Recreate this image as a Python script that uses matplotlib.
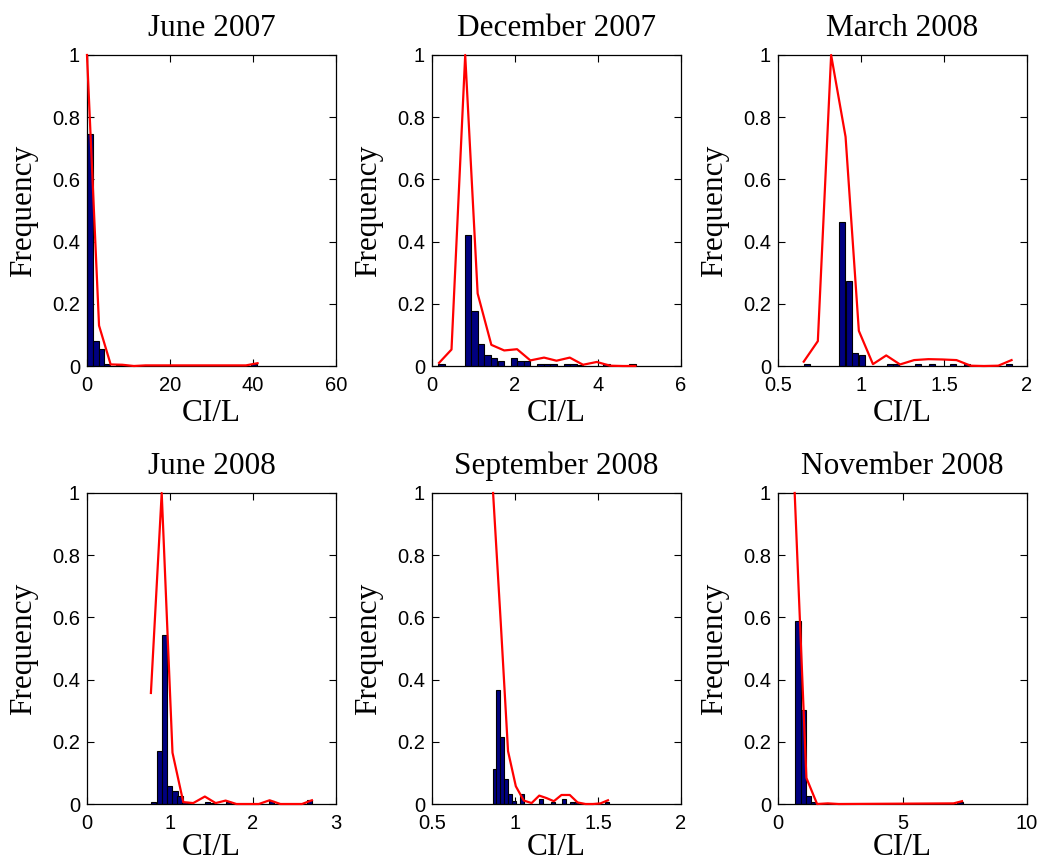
import matplotlib
matplotlib.use("Agg")
import matplotlib.pyplot as plt
from matplotlib.ticker import FuncFormatter

titles = ["June 2007", "December 2007", "March 2008",
          "June 2008", "September 2008", "November 2008"]

# histogram bars (bin centres, heights, bin width)
bar_x1 = [0.7, 2.1, 3.5, 4.9, 7.7, 40.3]
bar_y1 = [0.745, 0.08, 0.055, 0.006, 0.003, 0.008]
bar_w1 = 1.4

bar_x2 = [0.23, 0.87, 1.02, 1.18, 1.34, 1.50, 1.66, 1.98, 2.13, 2.29,
          2.61, 2.77, 2.93, 3.25, 3.41, 3.56, 4.20, 4.83]
bar_y2 = [0.008, 0.42, 0.178, 0.072, 0.034, 0.025, 0.017, 0.025, 0.017, 0.017,
          0.008, 0.008, 0.008, 0.008, 0.008, 0.003, 0.007, 0.008]
bar_w2 = 0.155

bar_x3 = [0.672, 0.885, 0.925, 0.965, 1.005, 1.176, 1.212, 1.345, 1.43,
          1.553, 1.64, 1.89]
bar_y3 = [0.008, 0.463, 0.273, 0.042, 0.035, 0.008, 0.006, 0.008, 0.008,
          0.008, 0.005, 0.008]
bar_w3 = 0.036

bar_x4 = [0.805, 0.87, 0.93, 0.995, 1.06, 1.12, 1.18, 1.24, 1.45, 1.51,
          1.705, 2.225, 2.68]
bar_y4 = [0.008, 0.17, 0.545, 0.057, 0.043, 0.027, 0.008, 0.003, 0.008,
          0.004, 0.008, 0.01, 0.012]
bar_w4 = 0.062

bar_x5 = [0.878, 0.900, 0.924, 0.948, 0.972, 0.995, 1.042, 1.157, 1.23,
          1.295, 1.342, 1.366, 1.552]
bar_y5 = [0.112, 0.366, 0.215, 0.08, 0.033, 0.01, 0.033, 0.017, 0.008,
          0.017, 0.008, 0.008, 0.008]
bar_w5 = 0.024

bar_x6 = [0.8, 1.01, 1.23, 1.44, 7.31]
bar_y6 = [0.588, 0.303, 0.025, 0.008, 0.005]
bar_w6 = 0.21

# red curves
line_x1 = [0.0, 2.9, 5.7, 8.5, 11.3, 14.1, 38.3, 41.1]
line_y1 = [1.0, 0.13, 0.005, 0.004, 0.0, 0.002, 0.002, 0.009]

line_x2 = [0.17, 0.47, 0.8, 1.1, 1.43, 1.74, 2.05, 2.37, 2.7, 3.0, 3.32,
           3.64, 3.97, 4.29, 4.6, 4.9]
line_y2 = [0.01, 0.053, 1.0, 0.233, 0.068, 0.05, 0.054, 0.018, 0.027, 0.017,
           0.027, 0.004, 0.013, 0.001, 0.0, 0.0]

line_x3 = [0.655, 0.74, 0.82, 0.907, 0.987, 1.072, 1.152, 1.235, 1.32,
           1.406, 1.49, 1.575, 1.66, 1.74, 1.827, 1.907]
line_y3 = [0.014, 0.08, 1.0, 0.737, 0.113, 0.006, 0.034, 0.005, 0.019,
           0.022, 0.021, 0.019, 0.001, 0.0, 0.001, 0.019]

line_x4 = [0.77, 0.9, 1.03, 1.16, 1.28, 1.42, 1.55, 1.67, 1.8, 1.94, 2.07,
           2.2, 2.33, 2.46, 2.59, 2.71]
line_y4 = [0.357, 1.0, 0.165, 0.006, 0.003, 0.024, 0.003, 0.011, 0.0, 0.0,
           0.0, 0.012, 0.0, 0.0, 0.0, 0.012]

line_x5 = [0.868, 0.914, 0.958, 1.005, 1.053, 1.1, 1.146, 1.19, 1.234, 1.28,
           1.33, 1.377, 1.425, 1.47, 1.515, 1.56]
line_y5 = [1.0, 0.585, 0.17, 0.057, 0.011, 0.003, 0.027, 0.019, 0.009,
           0.029, 0.029, 0.005, 0.0, 0.0, 0.002, 0.012]

line_x6 = [0.67, 1.14, 1.57, 2.0, 2.44, 7.05, 7.39]
line_y6 = [1.0, 0.084, 0.0, 0.002, 0.0, 0.002, 0.009]

xlims = [(0, 60), (0, 6), (0.5, 2), (0, 3), (0.5, 2), (0, 10)]
xticks = [[0, 20, 40, 60], [0, 2, 4, 6], [0.5, 1, 1.5, 2],
          [0, 1, 2, 3], [0.5, 1, 1.5, 2], [0, 5, 10]]
yticks = [0, 0.2, 0.4, 0.6, 0.8, 1]

bars = [(bar_x1, bar_y1, bar_w1), (bar_x2, bar_y2, bar_w2), (bar_x3, bar_y3, bar_w3),
        (bar_x4, bar_y4, bar_w4), (bar_x5, bar_y5, bar_w5), (bar_x6, bar_y6, bar_w6)]
lines = [(line_x1, line_y1), (line_x2, line_y2), (line_x3, line_y3),
         (line_x4, line_y4), (line_x5, line_y5), (line_x6, line_y6)]

W, H = 1039, 864
fig = plt.figure(figsize=(W / 100, H / 100), dpi=100)

lefts = [87, 432, 778]
tops = [55, 493]
aw, ah = 249, 311

serif = "Liberation Serif"
sans = "Liberation Sans"
fmt = FuncFormatter(lambda v, p: f"{v:g}")

for i in range(6):
    r, c = divmod(i, 3)
    l = lefts[c]
    t = tops[r]
    ax = fig.add_axes([l / W, 1 - (t + ah) / H, aw / W, ah / H])
    bx, by, bw = bars[i]
    ax.bar(bx, by, width=bw, color="#000080", edgecolor="black", linewidth=0.8,
           zorder=2)
    lx, ly = lines[i]
    ax.plot(lx, ly, color="red", linewidth=1.6, zorder=3, clip_on=False)
    ax.set_xlim(*xlims[i])
    ax.set_ylim(0, 1)
    ax.set_xticks(xticks[i])
    ax.set_yticks(yticks)
    ax.xaxis.set_major_formatter(fmt)
    ax.yaxis.set_major_formatter(fmt)
    ax.tick_params(direction="in", top=True, right=True, length=5, width=0.8,
                   labelsize=14.5)
    ax.tick_params(axis="x", pad=7)
    ax.tick_params(axis="y", pad=5)
    for lab in ax.get_xticklabels() + ax.get_yticklabels():
        lab.set_fontfamily(sans)
    for s in ax.spines.values():
        s.set_linewidth(0.9)
    ax.set_title(titles[i], fontfamily=serif, fontsize=22.5, pad=14)
    ax.set_xlabel("CI/L", fontfamily=serif, fontsize=22.5,
                  labelpad=3 if r == 0 else 0)
    ax.set_ylabel("Frequency", fontfamily=serif, fontsize=22.5, labelpad=10)

fig.savefig("out.png", dpi=100)
